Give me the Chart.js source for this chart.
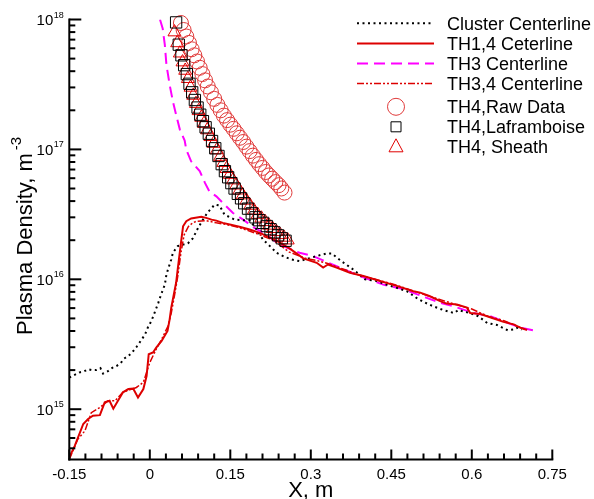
<!DOCTYPE html>
<html>
<head>
<meta charset="utf-8">
<script src="https://cdn.jsdelivr.net/npm/chart.js@4.4.1/dist/chart.umd.min.js"></script>
<style>
  html, body { margin: 0; padding: 0; background: #fff; }
  #wrap { width: 594px; height: 499px; }
</style>
</head>
<body>
<div id="wrap"><canvas id="plot" width="594" height="499"></canvas></div>
<script>
// values: x in m, plasma density in m^-3

const clusterX = [-0.150,-0.140,-0.131,-0.123,-0.115,-0.108,-0.100,-0.092,-0.087,-0.078,
  -0.070,-0.062,-0.054,-0.048,-0.040,-0.033,-0.025,-0.017,-0.009,-0.003,
  0.003,0.009,0.016,0.020,0.028,0.031,0.035,0.040,0.043,0.052,
  0.062,0.071,0.080,0.090,0.099,0.108,0.121,0.130,0.139,0.158,
  0.174,0.186,0.199,0.211,0.227,0.236,0.251,0.264,0.279,0.311,
  0.329,0.339,0.357,0.379,0.401,0.423,0.441,0.460,0.479,0.497,
  0.510,0.528,0.547,0.567,0.575,0.596,0.612,0.629,0.647,0.667,
  0.677,0.686,0.693];
const clusterY = [1.75e15,1.84e15,1.92e15,1.95e15,2.03e15,2.0e15,2.0e15,2.07e15,1.88e15,1.96e15,
  2.08e15,2.15e15,2.27e15,2.45e15,2.57e15,2.73e15,3.01e15,3.35e15,3.75e15,4.32e15,
  4.78e15,5.54e15,6.61e15,7.43e15,9.1e15,1.09e16,1.23e16,1.42e16,1.6e16,1.8e16,
  1.85e16,1.89e16,2.06e16,2.49e16,2.88e16,3.28e16,3.76e16,3.7e16,3.15e16,2.88e16,
  2.85e16,2.85e16,2.42e16,2.02e16,1.75e16,1.6e16,1.49e16,1.42e16,1.38e16,1.51e16,
  1.58e16,1.58e16,1.38e16,1.19e16,1.0e16,9.7e15,9.1e15,8.6e15,8.1e15,7.2e15,
  6.7e15,6.2e15,5.8e15,5.5e15,5.8e15,5.5e15,5.2e15,4.6e15,4.45e15,4.05e15,
  4.1e15,4.25e15,4.1e15];

const th14X = [-0.150,-0.140,-0.124,-0.115,-0.106,-0.093,-0.084,-0.075,-0.068,-0.050,
  -0.040,-0.031,-0.022,-0.012,-0.006,-0.002,0.006,0.012,0.022,0.033,
  0.037,0.040,0.049,0.052,0.058,0.062,0.068,0.077,0.096,0.105,
  0.115,0.124,0.136,0.149,0.167,0.186,0.205,0.223,0.239,0.261,
  0.286,0.311,0.323,0.332,0.348,0.373,0.398,0.429,0.460,0.491,
  0.504,0.522,0.541,0.553,0.572,0.591,0.597,0.616,0.634,0.659,
  0.678,0.690,0.703];
const th14Y = [4.27e14,5.2e14,7.7e14,8.4e14,8.9e14,9.0e14,1.13e15,1.16e15,1.01e15,1.35e15,
  1.43e15,1.44e15,1.23e15,1.43e15,1.8e15,2.65e15,2.73e15,2.98e15,3.35e15,4.0e15,
  4.92e15,6.05e15,9.4e15,1.19e16,1.9e16,2.56e16,2.8e16,2.94e16,3.03e16,2.97e16,
  2.88e16,2.83e16,2.72e16,2.64e16,2.54e16,2.42e16,2.28e16,2.1e16,1.95e16,1.72e16,
  1.45e16,1.34e16,1.23e16,1.30e16,1.23e16,1.12e16,1.06e16,9.7e15,8.9e15,8.1e15,
  7.9e15,7.4e15,6.8e15,6.5e15,6.4e15,6.05e15,5.5e15,5.4e15,5.1e15,4.7e15,
  4.5e15,4.25e15,4.07e15];

const th3X = [0.019,0.024,0.028,0.031,0.037,0.043,0.049,0.056,0.065,0.068,
  0.077,0.093,0.103,0.111,0.124,0.139,0.155,0.174,0.195,0.217,
  0.242,0.279,0.304,0.348,0.391,0.435,0.472,0.516,0.541,0.566,
  0.603,0.634,0.665,0.690,0.721];
const th3Y = [1.0e18,8.55e17,6.37e17,4.48e17,3.14e17,2.34e17,1.85e17,1.42e17,1.17e17,9.95e16,
  8.1e16,6.8e16,5.5e16,4.75e16,4.35e16,3.76e16,3.24e16,2.88e16,2.49e16,2.21e16,
  1.85e16,1.6e16,1.51e16,1.26e16,1.06e16,9.1e15,8.4e15,7.2e15,6.6e15,6.2e15,
  5.5e15,5.2e15,4.65e15,4.25e15,4.0e15];

const th34X = [-0.150,-0.134,-0.121,-0.109,-0.093,-0.078,-0.065,-0.050,-0.025,-0.012,
  0.000,0.012,0.022,0.034,0.040,0.046,0.052,0.058,0.064,0.072,
  0.080,0.087,0.105,0.124,0.143,0.167,0.199,0.230,0.260,0.290,
  0.310,0.330,0.360,0.390,0.420,0.460,0.500,0.540,0.570,0.600,
  0.630,0.660,0.700];
const th34Y = [4.1e14,5.9e14,6.8e14,9.4e14,1.03e15,1.16e15,1.16e15,1.35e15,1.47e15,1.61e15,
  2.29e15,2.9e15,3.45e15,4.37e15,5.5e15,7.5e15,1.05e16,1.6e16,2.2e16,2.55e16,
  2.72e16,2.8e16,2.83e16,2.72e16,2.64e16,2.5e16,2.25e16,2.0e16,1.62e16,1.45e16,
  1.4e16,1.33e16,1.2e16,1.08e16,1.0e16,9.0e15,7.9e15,7.0e15,6.4e15,5.9e15,
  5.2e15,4.8e15,4.1e15];

const rawX = [0.058,0.063,0.068,0.073,0.078,0.083,0.088,0.093,0.098,0.103,
  0.108,0.114,0.120,0.126,0.132,0.138,0.144,0.150,0.156,0.162,
  0.168,0.174,0.180,0.186,0.192,0.198,0.204,0.210,0.216,0.222,
  0.228,0.234,0.240,0.245,0.251];
const rawY = [9.4e17,8.3e17,7.4e17,6.6e17,5.9e17,5.3e17,4.75e17,4.25e17,3.8e17,3.4e17,
  3.05e17,2.75e17,2.45e17,2.2e17,2.0e17,1.82e17,1.68e17,1.55e17,1.44e17,1.33e17,
  1.23e17,1.14e17,1.05e17,9.7e16,8.95e16,8.3e16,7.7e16,7.2e16,6.7e16,6.3e16,
  5.95e16,5.6e16,5.3e16,5.0e16,4.65e16];

const lafX = [0.049,0.054,0.059,0.064,0.069,0.074,0.079,0.084,0.089,0.094,
  0.099,0.104,0.110,0.116,0.122,0.128,0.134,0.140,0.146,0.152,
  0.158,0.164,0.170,0.176,0.183,0.190,0.197,0.204,0.211,0.218,
  0.225,0.232,0.239,0.246,0.253];
const lafY = [9.5e17,6.4e17,5.3e17,4.45e17,3.8e17,3.2e17,2.75e17,2.4e17,2.1e17,1.85e17,
  1.65e17,1.48e17,1.32e17,1.16e17,1.02e17,8.9e16,7.7e16,6.8e16,6.1e16,5.5e16,
  5.0e16,4.55e16,4.2e16,3.85e16,3.5e16,3.22e16,3.0e16,2.85e16,2.72e16,2.57e16,
  2.43e16,2.3e16,2.18e16,2.07e16,1.98e16];

const sheathX = [0.046,0.051,0.056,0.061,0.066,0.071,0.076,0.081,0.086,0.091,
  0.096,0.101,0.107,0.113,0.119,0.125,0.131,0.137,0.143,0.149,
  0.155,0.161,0.167,0.173,0.180,0.187,0.194,0.201,0.208,0.215,
  0.222,0.229,0.236,0.243,0.250,0.257];
const sheathY = [8.0e17,6.6e17,5.5e17,4.7e17,4.05e17,3.5e17,3.0e17,2.6e17,2.25e17,1.98e17,
  1.76e17,1.58e17,1.41e17,1.25e17,1.11e17,9.9e16,8.8e16,7.9e16,7.1e16,6.4e16,
  5.8e16,5.3e16,4.85e16,4.45e16,4.05e16,3.7e16,3.4e16,3.15e16,2.95e16,2.77e16,
  2.6e16,2.45e16,2.32e16,2.2e16,2.1e16,2.0e16];

const xTicks = [-0.15, 0, 0.15, 0.3, 0.45, 0.6, 0.75];
const xTickLabels = ['-0.15', '0', '0.15', '0.3', '0.45', '0.6', '0.75'];
const yDecades = [15, 16, 17, 18];
const yTickLabels = ['15', '16', '17', '18'];
const legendLabels = ['Cluster Centerline', 'TH1,4 Ceterline', 'TH3 Centerline', 'TH3,4 Centerline',
  'TH4,Raw Data', 'TH4,Laframboise', 'TH4, Sheath'];

const FONT = '"Liberation Sans", Arial, Helvetica, sans-serif';
const RED = '#dd0000';
const pts = (xs, ys) => xs.map((x, i) => ({ x: x, y: ys[i] }));

// tecplot-ish frame: only left/bottom axis, ticks pointing inwards
const frame = {
  id: 'frame',
  afterDraw(chart) {
    const { ctx, chartArea: a, scales: { x, y } } = chart;
    const seg = (x1, y1, x2, y2) => { ctx.beginPath(); ctx.moveTo(x1, y1); ctx.lineTo(x2, y2); ctx.stroke(); };
    ctx.save();
    ctx.strokeStyle = '#000';
    ctx.fillStyle = '#000';
    ctx.lineWidth = 2;
    seg(a.left, a.top - 1, a.left, a.bottom + 1);
    seg(a.left - 1, a.bottom, a.right + 1, a.bottom);

    for (let i = 0; i <= 30; i++) {
      const px = x.getPixelForValue(-0.15 + i * 0.03);
      seg(px, a.bottom, px, a.bottom - (i % 5 === 0 ? 10 : 6));
    }
    for (let d = 14; d <= 18; d++) {
      for (let m = 1; m <= 9; m++) {
        const v = m * Math.pow(10, d);
        if (v < y.min || v > y.max * 1.0001) continue;
        const py = y.getPixelForValue(v);
        seg(a.left, py, a.left + (m === 1 ? 12 : 6), py);
      }
    }

    ctx.font = '15px ' + FONT;
    ctx.textAlign = 'center';
    ctx.textBaseline = 'alphabetic';
    xTicks.forEach((v, i) => ctx.fillText(xTickLabels[i], x.getPixelForValue(v), a.bottom + 19));

    yDecades.forEach((d, i) => {
      const py = y.getPixelForValue(Math.pow(10, d));
      ctx.font = '15px ' + FONT;
      ctx.textAlign = 'right';
      ctx.fillText('10', a.left - 16, py + 5.5);
      ctx.font = '9px ' + FONT;
      ctx.textAlign = 'left';
      ctx.fillText(yTickLabels[i], a.left - 15.5, py - 2);
    });

    // axis titles
    ctx.font = '22px ' + FONT;
    ctx.textAlign = 'center';
    ctx.fillText('X, m', (a.left + a.right) / 2, 497);

    ctx.save();
    ctx.translate(32, 335);
    ctx.rotate(-Math.PI / 2);
    ctx.textAlign = 'left';
    ctx.fillText('Plasma Density, m', 0, 0);
    const w = ctx.measureText('Plasma Density, m').width;
    ctx.font = '15px ' + FONT;
    ctx.fillText('-3', w + 3, -11);
    ctx.restore();

    // legend
    const rows = [23.3, 43.5, 63.5, 83.5, 106.8, 126.8, 146.8];
    const lx0 = 357, lx1 = 434, mx = 396, tx = 447;
    chart.data.datasets.forEach((ds, i) => {
      const ry = rows[i];
      ctx.save();
      if (ds.showLine) {
        ctx.strokeStyle = ds.borderColor;
        ctx.lineWidth = ds.borderWidth;
        ctx.setLineDash(ds.borderDash || []);
        seg(lx0, ry, lx1, ry);
      } else {
        ctx.strokeStyle = ds.pointBorderColor;
        ctx.lineWidth = 1;
        ctx.beginPath();
        if (ds.pointStyle === 'circle') {
          ctx.arc(mx, ry, 8.5, 0, Math.PI * 2);
        } else if (ds.pointStyle === 'rect') {
          ctx.rect(mx - 5, ry - 5, 10, 10);
        } else {
          ctx.moveTo(mx, ry - 8);
          ctx.lineTo(mx + 7, ry + 5);
          ctx.lineTo(mx - 7, ry + 5);
          ctx.closePath();
        }
        ctx.stroke();
      }
      ctx.restore();
      ctx.font = '18px ' + FONT;
      ctx.textAlign = 'left';
      ctx.fillText(ds.label, tx, ry + 6.4);
    });
    ctx.restore();
  }
};

new Chart(document.getElementById('plot'), {
  type: 'scatter',
  data: {
    datasets: [
      { label: legendLabels[0], data: pts(clusterX, clusterY), showLine: true, borderColor: '#000',
        borderWidth: 2, borderDash: [2, 3.5], pointRadius: 0, order: 5 },
      { label: legendLabels[1], data: pts(th14X, th14Y), showLine: true, borderColor: RED,
        borderWidth: 2, pointRadius: 0, order: 4 },
      { label: legendLabels[2], data: pts(th3X, th3Y), showLine: true, borderColor: '#ff00ff',
        borderWidth: 2, borderDash: [11, 6], pointRadius: 0, order: 6 },
      { label: legendLabels[3], data: pts(th34X, th34Y), showLine: true, borderColor: RED,
        borderWidth: 1.5, borderDash: [7, 2, 2, 2, 2, 2], pointRadius: 0, order: 3 },
      { label: legendLabels[4], data: pts(rawX, rawY), showLine: false, pointStyle: 'circle',
        pointRadius: 7.5, pointBorderColor: '#e03a3a', pointBackgroundColor: 'rgba(0,0,0,0)',
        pointBorderWidth: 1, clip: false, order: 2 },
      { label: legendLabels[5], data: pts(lafX, lafY), showLine: false, pointStyle: 'rect',
        pointRadius: 8, pointBorderColor: '#000', pointBackgroundColor: 'rgba(0,0,0,0)',
        pointBorderWidth: 1, clip: false, order: 0 },
      { label: legendLabels[6], data: pts(sheathX, sheathY), showLine: false, pointStyle: 'triangle',
        pointRadius: 7.5, pointBorderColor: '#e00000', pointBackgroundColor: 'rgba(0,0,0,0)',
        pointBorderWidth: 1, clip: false, order: 1 }
    ]
  },
  options: {
    responsive: false,
    animation: false,
    layout: { padding: { left: 69.3, right: 41.7, top: 19.5, bottom: 39.5 } },
    elements: { line: { tension: 0 } },
    scales: {
      x: { type: 'linear', min: -0.15, max: 0.75, display: false },
      y: { type: 'logarithmic', min: 4.1e14, max: 1e18, display: false }
    },
    plugins: { legend: { display: false }, tooltip: { enabled: false } }
  },
  plugins: [frame]
});
</script>
</body>
</html>
